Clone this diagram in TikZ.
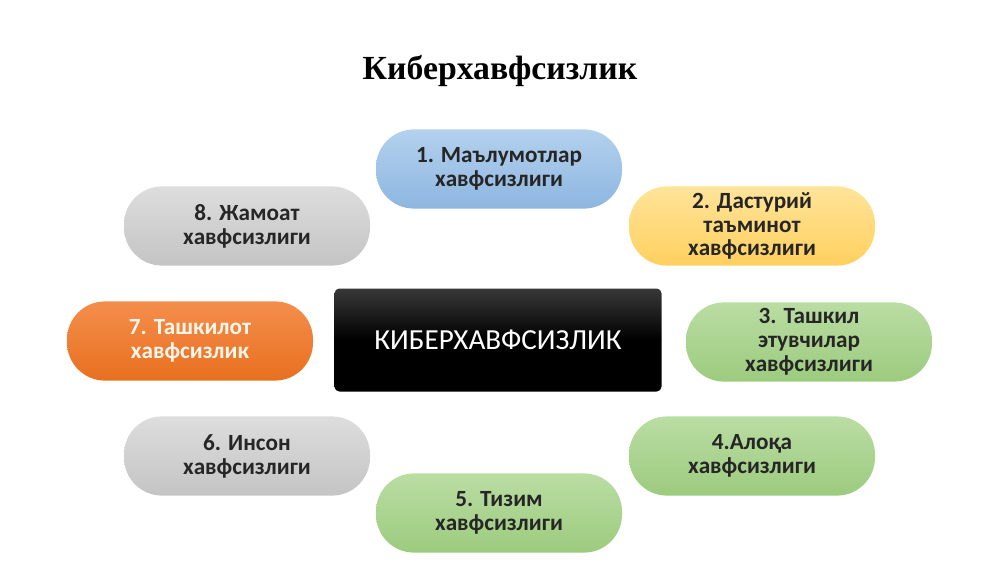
\documentclass[tikz,border=0pt]{standalone}
\usepackage{fontspec}
\setmainfont{Carlito}
\newfontfamily\titlefont{Liberation Serif}
\usetikzlibrary{positioning}

\definecolor{bluetop}{HTML}{B4D1EE}
\definecolor{bluebot}{HTML}{8DB6E0}
\definecolor{yellowtop}{HTML}{FFE49A}
\definecolor{yellowbot}{HTML}{FFD05E}
\definecolor{greytop}{HTML}{DDDDDD}
\definecolor{greybot}{HTML}{C4C4C4}
\definecolor{orangetop}{HTML}{F48E4C}
\definecolor{orangebot}{HTML}{E8701F}
\definecolor{greentop}{HTML}{BADDA3}
\definecolor{greenbot}{HTML}{9CCB7E}
\definecolor{textgrey}{HTML}{262626}

\tikzset{
  pill/.style={rounded corners=0.95cm, minimum width=6.15cm, minimum height=1.98cm,
    align=center, text=textgrey, font=\fontsize{16.5}{17}\selectfont\bfseries},
  bluepill/.style={pill, top color=bluetop, bottom color=bluebot},
  yellowpill/.style={pill, top color=yellowtop, bottom color=yellowbot},
  greypill/.style={pill, top color=greytop, bottom color=greybot},
  orangepill/.style={pill, top color=orangetop, bottom color=orangebot, text=white!92!orange},
  greenpill/.style={pill, top color=greentop, bottom color=greenbot},
  hub/.style={rounded corners=0.12cm, minimum width=8.175cm, minimum height=2.575cm,
    top color=black!78, bottom color=black, middle color=black, text=white,
    font=\fontsize{20.7}{24}\selectfont}
}

\begin{document}
\begin{tikzpicture}
\useasboundingbox (0,0) rectangle (25,14.05);
\node (title) at (12.5,12.27) {\titlefont\bfseries\fontsize{24}{28}\selectfont Киберхавфсизлик};

\node[hub] (kiber) at (12.45,5.55) {КИБЕРХАВФСИЗЛИК};

\node[bluepill] (malumot) at (12.475,9.825) {1. Маълумотлар\\хавфсизлиги}
node[yellowpill] (dastur) at (18.8,8.4) {2. Дастурий\\таъминот\\хавфсизлиги}
node[greenpill] (tashkil) at (20.225,5.5) {3. Ташкил\\этувчилар\\хавфсизлиги}
node[greenpill] (aloqa) at (18.8,2.65) {4.Алоқа\\хавфсизлиги}
node[greenpill] (tizim) at (12.475,1.225) {5. Тизим\\хавфсизлиги}
node[greypill] (inson) at (6.175,2.65) {6. Инсон\\хавфсизлиги}
node[orangepill] (tashkilot) at (4.75,5.525) {7. Ташкилот\\хавфсизлик}
node[greypill] (jamoat) at (6.175,8.4) {8. Жамоат\\хавфсизлиги};

\end{tikzpicture}
\end{document}
